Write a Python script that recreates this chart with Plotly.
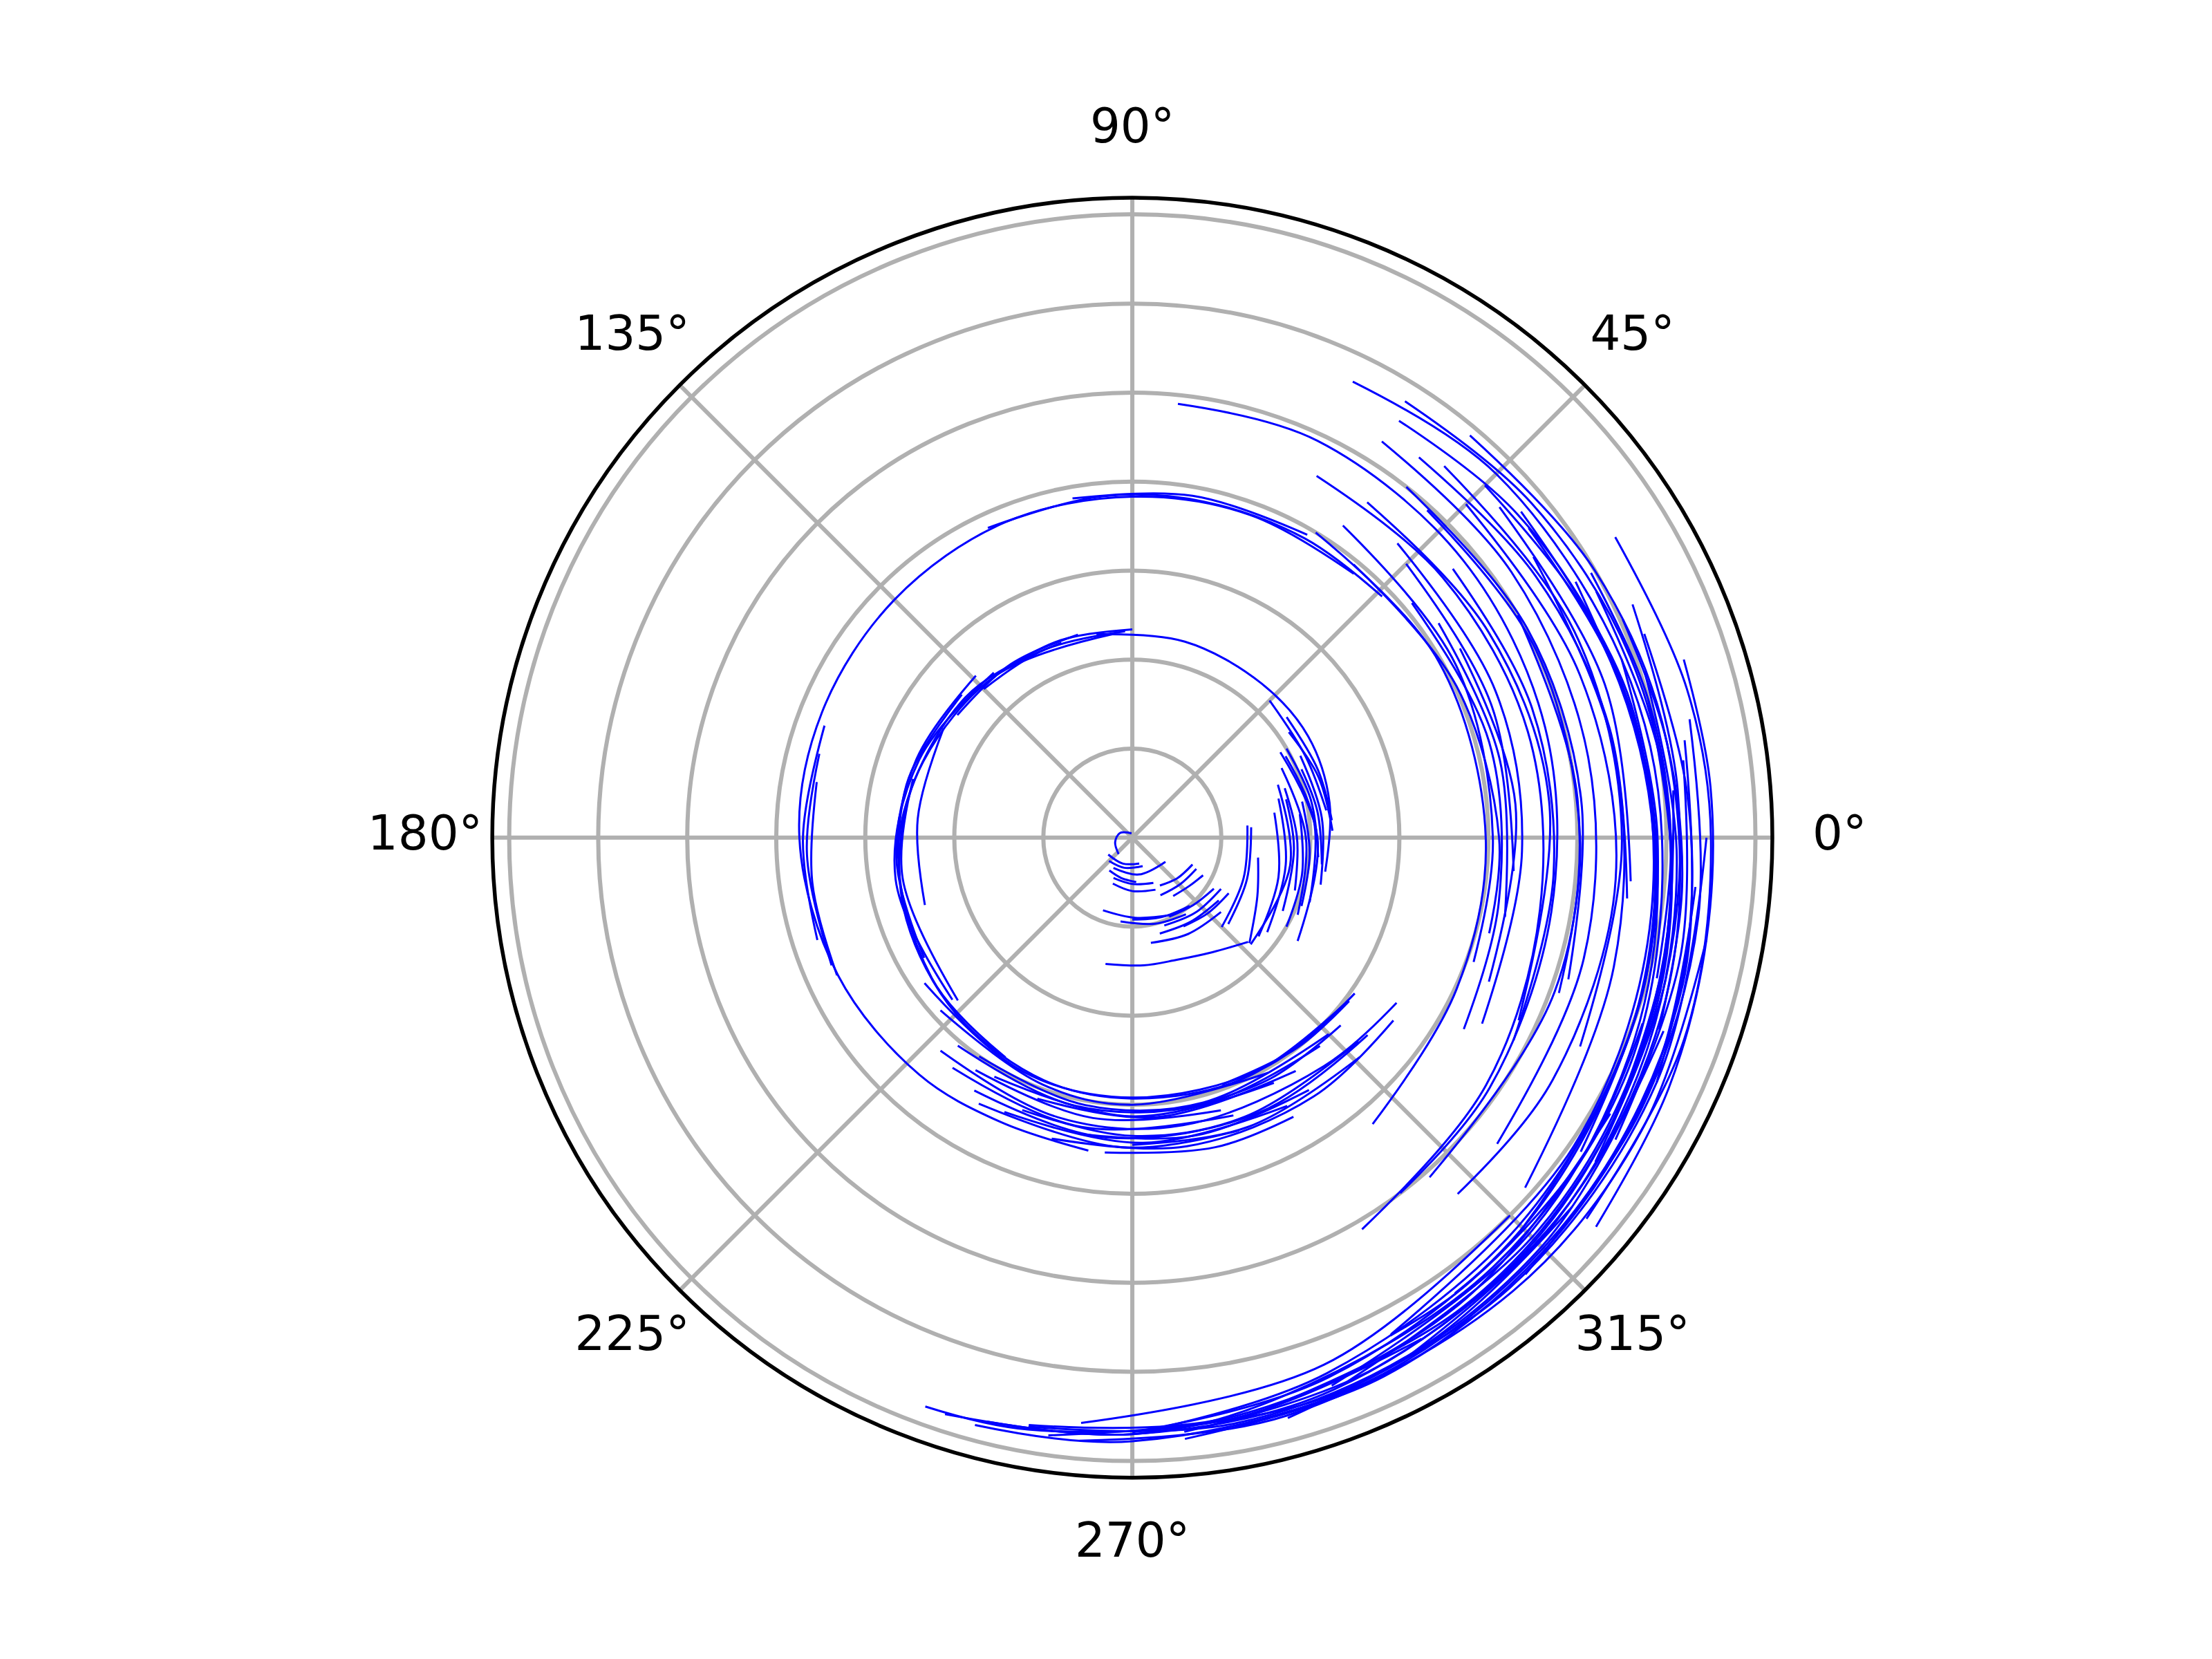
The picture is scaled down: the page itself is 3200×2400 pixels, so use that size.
import plotly.graph_objects as go

# Each arc is a short list of (theta in degrees, radius) points.
# Innermost curl around the pole
CORE_THETA = [
    [100, 160, 195, 230], [215, 250, 285], [225, 255, 290], [238, 280, 324],
    [245, 270, 295], [247, 270, 294], [300, 318, 336], [296, 316, 334],
    [305, 320, 332], [248, 272, 298], [262, 285, 305], [286, 305, 324],
    [290, 310, 330], [258, 275, 290, 305, 318], [6, 340, 315], [5, 340, 318],
    [351, 335, 318], [280, 300, 320], [295, 312, 328], [300, 315, 330],
    [270, 290, 310], [235, 255, 275],
]
CORE_R = [
    [0.05, 0.15, 0.2, 0.24], [0.33, 0.31, 0.3], [0.37, 0.35, 0.34], [0.40, 0.42, 0.46],
    [0.5, 0.52, 0.56], [0.56, 0.6, 0.64], [0.62, 0.68, 0.74], [0.72, 0.75, 0.8],
    [0.8, 0.84, 0.9], [0.88, 0.9, 0.98], [0.95, 1.0, 1.05], [1.12, 1.15, 1.2],
    [1.05, 1.1, 1.15], [1.45, 1.44, 1.46, 1.57, 1.75], [1.30, 1.33, 1.42], [1.34, 1.37, 1.45],
    [1.43, 1.55, 1.77], [1.2, 1.25, 1.3], [0.98, 1.02, 1.08], [1.15, 1.2, 1.25],
    [0.92, 0.95, 1.0], [0.45, 0.47, 0.5],
]

# Arcs hugging 0 deg at r ~ 1.6-2.3
INNER_THETA = [
    [100, 75, 50, 30, 10, -10], [34, 18, 2], [30, 0, -32], [28, 5, -20],
    [25, 0, -25], [20, -10, -42], [15, -10, -35], [10, -15, -38],
    [22, 8, -8], [12, -5, -22], [38, 20, 5], [45, 25, 8],
    [18, 0, -18], [30, 12, -6], [8, -12, -30], [26, 6, -14], [14, -4, -26],
]
INNER_R = [
    [2.32, 2.28, 2.26, 2.28, 2.25, 2.2], [2.12, 2.2, 2.25], [1.92, 2.08, 2.19], [1.95, 2.05, 2.12],
    [1.85, 1.95, 2.05], [1.74, 1.8, 1.79], [1.7, 1.75, 1.85], [1.62, 1.7, 1.8],
    [2.05, 2.1, 2.15], [1.95, 2.0, 2.05], [2.2, 2.22, 2.25], [2.18, 2.15, 2.2],
    [1.8, 1.85, 1.92], [2.0, 2.05, 2.1], [1.9, 1.95, 2.0], [2.1, 2.14, 2.18], [1.78, 1.82, 1.88],
]

# Ring sweeping over the top and down the left side
RING_THETA = [
    [95, 130, 160, 180, 200, 225, 250, 270, 295, 322], [110, 140, 180, 215, 240],
    [130, 160, 190, 222], [150, 175, 198], [140, 165, 185], [90, 110, 128],
    [92, 115, 135], [105, 125, 145], [134, 160, 185, 210], [165, 190, 223],
]
RING_R = [
    [2.3, 2.38, 2.5, 2.6, 2.7, 2.8, 2.9, 2.93, 2.98, 3.03], [2.33, 2.45, 2.62, 2.75, 2.85],
    [2.42, 2.55, 2.7, 2.72], [2.45, 2.42, 2.45], [2.5, 2.6, 2.65], [2.34, 2.36, 2.38],
    [2.32, 2.33, 2.36], [2.36, 2.38, 2.4], [2.53, 2.58, 2.66, 2.7], [2.55, 2.62, 2.68],
]

# Dense band under the pole
BAND_THETA = [
    [215, 245, 270, 300, 325], [222, 250, 270, 300], [235, 260, 285, 315], [240, 270, 300],
    [250, 275, 305], [228, 255, 280, 310, 328], [232, 260, 290], [238, 265, 295, 320],
    [245, 272, 300], [240, 268, 290], [255, 280, 305, 325], [265, 285, 300],
    [282, 300, 318], [290, 308, 323], [230, 258, 285, 312], [248, 270, 292, 318],
    [260, 282, 305], [236, 262, 288], [270, 292, 316],
]
BAND_R = [
    [2.85, 2.9, 2.92, 2.98, 3.05], [2.9, 2.95, 3.0, 3.05], [3.0, 3.05, 3.08, 3.12], [3.1, 3.13, 3.18],
    [3.12, 3.15, 3.2], [3.22, 3.25, 3.28, 3.35, 3.5], [3.28, 3.3, 3.32], [3.35, 3.38, 3.4, 3.45],
    [3.4, 3.43, 3.48], [3.45, 3.48, 3.5], [3.5, 3.52, 3.55, 3.58], [3.55, 3.6, 3.62],
    [3.1, 3.12, 3.15], [2.95, 3.0, 3.05], [3.05, 3.08, 3.1, 3.15], [3.3, 3.35, 3.38, 3.42],
    [3.38, 3.42, 3.46], [3.15, 3.18, 3.22], [3.45, 3.5, 3.55],
]

# Second ring, r ~ 3.6-3.9
MID_THETA = [
    [50, 70, 90, 112, 135, 158, 180, 205, 228, 245, 262], [44, 60, 78, 95, 115],
    [60, 80, 100], [165, 183, 203], [160, 180, 198], [170, 188, 205],
]
MID_R = [
    [3.87, 3.86, 3.83, 3.82, 3.78, 3.76, 3.74, 3.65, 3.58, 3.52, 3.55], [3.9, 3.88, 3.86, 3.85, 3.84],
    [3.93, 3.9, 3.87], [3.64, 3.66, 3.67], [3.68, 3.7, 3.72], [3.6, 3.63, 3.66],
]

# Outer sweep on the right, r ~ 4-7
OUTER_THETA = [
    [59, 30, 0, -25, -50], [56, 28, 0, -20], [51, 25, 0, -15], [40, 15, -10, -30],
    [45, 20, -5], [30, 5, -22], [48, 22, -2, -28], [35, 12, -12],
    [63, 40, 15, -10, -35, -59.6], [84, 65, 40, 15, -10, -35, -53], [55, 30, 5, -25.3],
    [48, 25, 0, -20], [40, 18, -5, -28], [52, 28, 5, -18],
    [57.8, 35, 10, -15, -40], [45, 20, -5, -30, -47.6], [35, 10, -15, -41.7],
    [50, 25, 0, -25], [42, 18, -5], [30, 5, -20, -48.8],
    [64.2, 45, 20, 0, -25, -50, -75, -90, -108], [58, 40, 20, 0, -20, -45, -70, -90, -104],
    [57.4, 40, 20, 0, -20, -45, -70, -90], [50, 30, 10, -15, -40, -65, -85],
    [31.9, 15, 0, -20, -40], [24, 10, -5, -20], [21.7, 5, -10, -25], [17.9, 5, -10, -25, -40],
    [20, 0, -20, -45, -70, -88], [40, 15, -10, -35, -62.5], [30, 5, -20, -45, -54.7],
    [10, -15, -40, -65, -90, -105], [0, -25, -50, -75], [-30, -55, -80, -100],
    [-45, -70, -95], [-60, -80, -100, -110], [15, -5, -25, -45, -69.2],
    [25, 5, -15, -35], [12, -8, -28, -48], [5, -15, -35, -55, -77.2],
    [-20, -35, -53, -62.6], [-10, -30, -50, -75, -95], [-20, -45, -70, -98],
    [-40, -60, -80, -100], [30, 15, 0, -15], [8, -12, -32],
    [45, 25, 5, -15, -35], [38, 18, -2, -22, -45, -70], [28, 8, -12, -32],
    [53, 33, 13, -7], [18, -2, -22, -42, -62], [-5, -25, -45, -65, -85],
]
OUTER_R = [
    [4.0, 3.97, 3.97, 4.02, 4.2], [4.23, 4.12, 4.05, 4.08], [3.95, 4.02, 4.12, 4.15], [4.1, 4.15, 4.18, 4.3],
    [4.35, 4.3, 4.3], [4.25, 4.32, 4.32], [4.45, 4.4, 4.38, 4.45], [4.2, 4.22, 4.28],
    [4.56, 4.55, 4.6, 4.65, 4.85, 5.1], [4.9, 4.92, 4.85, 4.8, 4.78, 4.9, 5.0], [4.6, 4.62, 4.7, 4.8],
    [4.95, 5.0, 5.03, 5.1], [4.7, 4.72, 4.75, 4.85], [5.0, 5.02, 5.06, 5.15],
    [5.26, 5.2, 5.2, 5.25, 5.35], [5.3, 5.35, 5.45, 5.45, 5.42], [5.5, 5.5, 5.6, 5.91],
    [5.45, 5.48, 5.5, 5.55], [5.55, 5.58, 5.62], [5.0, 5.02, 5.05, 5.07],
    [5.69, 5.78, 5.85, 5.95, 6.15, 6.3, 6.5, 6.7, 6.81], [5.78, 5.85, 5.95, 6.05, 6.2, 6.4, 6.6, 6.7, 6.76],
    [5.56, 5.65, 5.75, 5.88, 6.0, 6.2, 6.45, 6.68], [5.9, 6.0, 6.1, 6.25, 6.4, 6.55, 6.7],
    [6.39, 6.45, 6.5, 6.6, 6.66], [6.03, 6.1, 6.2, 6.3], [6.19, 6.25, 6.35, 6.5], [6.51, 6.52, 6.55, 6.65, 6.8],
    [5.85, 5.9, 6.0, 6.15, 6.4, 6.65], [5.7, 5.8, 5.9, 6.05, 6.29], [5.75, 5.85, 6.0, 6.2, 6.27],
    [6.3, 6.4, 6.5, 6.65, 6.78, 6.83], [6.45, 6.5, 6.6, 6.75], [6.2, 6.4, 6.6, 6.7],
    [6.0, 6.3, 6.6], [6.5, 6.62, 6.75, 6.8], [6.0, 6.08, 6.2, 6.35, 6.59],
    [6.2, 6.15, 6.2, 6.35], [6.4, 6.42, 6.48, 6.6], [6.1, 6.15, 6.3, 6.45, 6.6],
    [6.1, 6.2, 6.27, 6.3], [6.55, 6.6, 6.65, 6.72, 6.8], [6.35, 6.5, 6.65, 6.78],
    [6.45, 6.58, 6.68, 6.72], [5.95, 6.0, 6.05, 6.1], [6.25, 6.3, 6.4],
    [5.6, 5.7, 5.82, 5.98, 6.15], [5.65, 5.75, 5.9, 6.08, 6.3, 6.55], [5.9, 6.0, 6.12, 6.3],
    [5.35, 5.4, 5.5, 5.6], [6.05, 6.12, 6.25, 6.42, 6.6], [6.35, 6.45, 6.55, 6.68, 6.78],
]

ANGLE_TICKS = [0, 45, 90, 135, 180, 225, 270, 315]
ANGLE_LABELS = ["0°", "45°", "90°", "135°", "180°", "225°", "270°", "315°"]
RADIAL_TICKS = [1, 2, 3, 4, 5, 6, 7]
R_MAX = 7.19
LABEL_PAD = 1.105  # angle labels sit centred at ~1.1 x the rim radius

GRID = "#b0b0b0"
FONT = "DejaVu Sans"

# plot disc placement (paper fractions)
CX, CY = 0.5094, 0.4984
HALF_X, HALF_Y = 0.2894, 0.3858


def join_arcs(groups):
    th, rr = [], []
    for thetas, radii in groups:
        for t, r in zip(thetas, radii):
            th += list(t) + [None]
            rr += list(r) + [None]
    return th, rr


theta, r = join_arcs([
    (CORE_THETA, CORE_R), (INNER_THETA, INNER_R), (RING_THETA, RING_R),
    (BAND_THETA, BAND_R), (MID_THETA, MID_R), (OUTER_THETA, OUTER_R),
])

fig = go.Figure()
fig.add_trace(go.Scatterpolar(
    theta=theta, r=r, mode="lines", connectgaps=False,
    line=dict(color="#0000ff", width=3, shape="spline", smoothing=1.0),
    hoverinfo="skip", showlegend=False,
))
# angle labels live on an invisible, slightly larger polar so they are centred like matplotlib's
fig.add_trace(go.Scatterpolar(
    theta=ANGLE_TICKS, r=[1] * len(ANGLE_TICKS), mode="text", subplot="polar2",
    text=ANGLE_LABELS, textposition="middle center", cliponaxis=False,
    textfont=dict(family=FONT, size=69, color="black"),
    hoverinfo="skip", showlegend=False,
))

hidden = dict(showline=False, showgrid=False, showticklabels=False, ticks="")

fig.update_layout(
    width=3200, height=2400,
    paper_bgcolor="white", plot_bgcolor="white",
    margin=dict(l=0, r=0, t=0, b=0),
    font=dict(family=FONT, size=69, color="black"),
    polar=dict(
        domain=dict(x=[CX - HALF_X, CX + HALF_X], y=[CY - HALF_Y, CY + HALF_Y]),
        bgcolor="white",
        angularaxis=dict(
            rotation=0, direction="counterclockwise",
            tickmode="array", tickvals=ANGLE_TICKS, showticklabels=False,
            ticks="", showline=True, linecolor="black", linewidth=5.5,
            showgrid=True, gridcolor=GRID, gridwidth=5.5,
        ),
        radialaxis=dict(
            range=[0, R_MAX], tickmode="array", tickvals=RADIAL_TICKS,
            showticklabels=False, ticks="", showline=False,
            showgrid=True, gridcolor=GRID, gridwidth=5.5,
        ),
    ),
    polar2=dict(
        domain=dict(x=[CX - HALF_X * LABEL_PAD, CX + HALF_X * LABEL_PAD],
                    y=[CY - HALF_Y * LABEL_PAD, CY + HALF_Y * LABEL_PAD]),
        bgcolor="rgba(0,0,0,0)",
        angularaxis=dict(rotation=0, direction="counterclockwise", **hidden),
        radialaxis=dict(range=[0, 1], **hidden),
    ),
)

fig.write_html("out.html")
